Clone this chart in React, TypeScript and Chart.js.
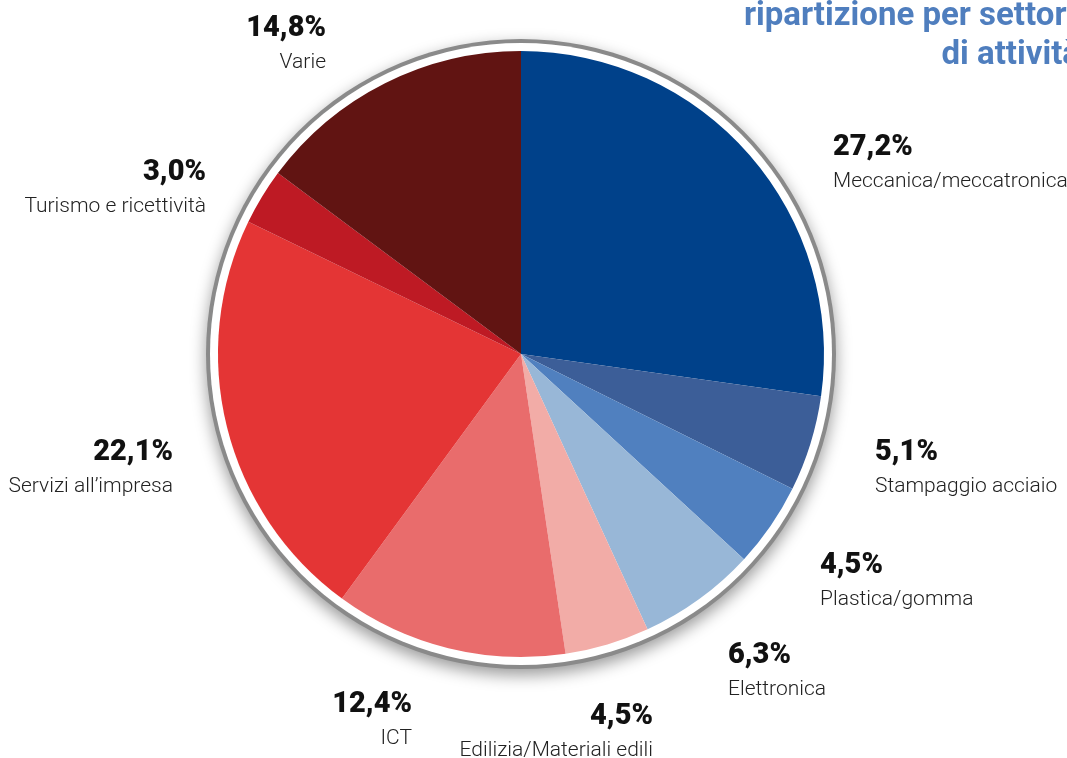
import React, { useEffect, useRef } from "react";
import { Chart, registerables } from "chart.js";

Chart.register(...registerables);

const categories = [
  "Meccanica/meccatronica",
  "Stampaggio acciaio",
  "Plastica/gomma",
  "Elettronica",
  "Edilizia/Materiali edili",
  "ICT",
  "Servizi all\u2019impresa",
  "Turismo e ricettività",
  "Varie",
];
const values = [27.2, 5.1, 4.5, 6.3, 4.5, 12.4, 22.1, 3.0, 14.8];
const percentLabels = ["27,2%", "5,1%", "4,5%", "6,3%", "4,5%", "12,4%", "22,1%", "3,0%", "14,8%"];
const colors = [
  "#00418A",
  "#3C5E98",
  "#5080BF",
  "#98B7D7",
  "#F2ACA7",
  "#E96C6C",
  "#E43535",
  "#BE1A24",
  "#611412",
];
const titleLines = ["ripartizione per settore", "di attività"];

// label layout: offsets from pie centre, text alignment
const labelLayout: { dx: number; dy: number; align: CanvasTextAlign }[] = [
  { dx: 312, dy: -206, align: "left" },
  { dx: 354, dy: 99, align: "left" },
  { dx: 299, dy: 212, align: "left" },
  { dx: 207, dy: 302, align: "left" },
  { dx: 132, dy: 363, align: "right" },
  { dx: -109, dy: 351, align: "right" },
  { dx: -348, dy: 99, align: "right" },
  { dx: -315, dy: -181, align: "right" },
  { dx: -195, dy: -325, align: "right" },
];

const ringPlugin = {
  id: "ring",
  beforeDatasetsDraw(chart: any) {
    const arc = chart.getDatasetMeta(0).data[0];
    if (!arc) return;
    const { x, y, outerRadius } = arc as any;
    const ctx = chart.ctx;
    ctx.save();
    ctx.shadowColor = "rgba(0,0,0,0.4)";
    ctx.shadowBlur = 16;
    ctx.shadowOffsetY = 6;
    ctx.beginPath();
    ctx.arc(x, y, outerRadius + 12, 0, Math.PI * 2);
    ctx.fillStyle = "#8A8A8A";
    ctx.fill();
    ctx.restore();
    ctx.save();
    ctx.beginPath();
    ctx.arc(x, y, outerRadius + 8, 0, Math.PI * 2);
    ctx.fillStyle = "#FFFFFF";
    ctx.fill();
    ctx.restore();
  },
  afterDraw(chart: any) {
    const arc = chart.getDatasetMeta(0).data[0];
    if (!arc) return;
    const { x, y } = arc as any;
    const ctx = chart.ctx;
    ctx.save();
    ctx.textBaseline = "middle";
    categories.forEach((name, i) => {
      const l = labelLayout[i];
      const px = x + l.dx;
      const py = y + l.dy;
      ctx.textAlign = l.align;
      ctx.fillStyle = "#111111";
      ctx.font = "900 29px Roboto";
      ctx.fillText(percentLabels[i], px, py);
      ctx.font = "300 21px Roboto";
      ctx.fillStyle = "#222222";
      ctx.fillText(name, px, py + 34);
    });
    // title
    ctx.fillStyle = "#4F7EBE";
    ctx.textAlign = "right";
    ctx.font = "700 33px Roboto";
    ctx.fillText(titleLines[0], chart.width + 17, 17);
    ctx.fillText(titleLines[1], chart.width + 13, 56);
    ctx.restore();
  },
};

export default function App() {
  const ref = useRef<HTMLCanvasElement | null>(null);
  useEffect(() => {
    if (!ref.current) return;
    const chart = new Chart(ref.current, {
      type: "pie",
      data: {
        labels: categories,
        datasets: [
          {
            data: values,
            backgroundColor: colors,
            borderWidth: 0,
          },
        ],
      },
      options: {
        animation: false,
        responsive: false,
        radius: 303,
        layout: { padding: { left: 0, right: 25, top: 0, bottom: 50 } },
        plugins: {
          legend: { display: false },
          tooltip: { enabled: false },
          title: { display: false },
        },
      },
      plugins: [ringPlugin],
    });
    return () => chart.destroy();
  }, []);
  return (
    <div style={{ position: "fixed", left: 0, top: 0, width: 1067, height: 758, background: "#fff" }}>
      <canvas ref={ref} width={1067} height={758} />
    </div>
  );
}
